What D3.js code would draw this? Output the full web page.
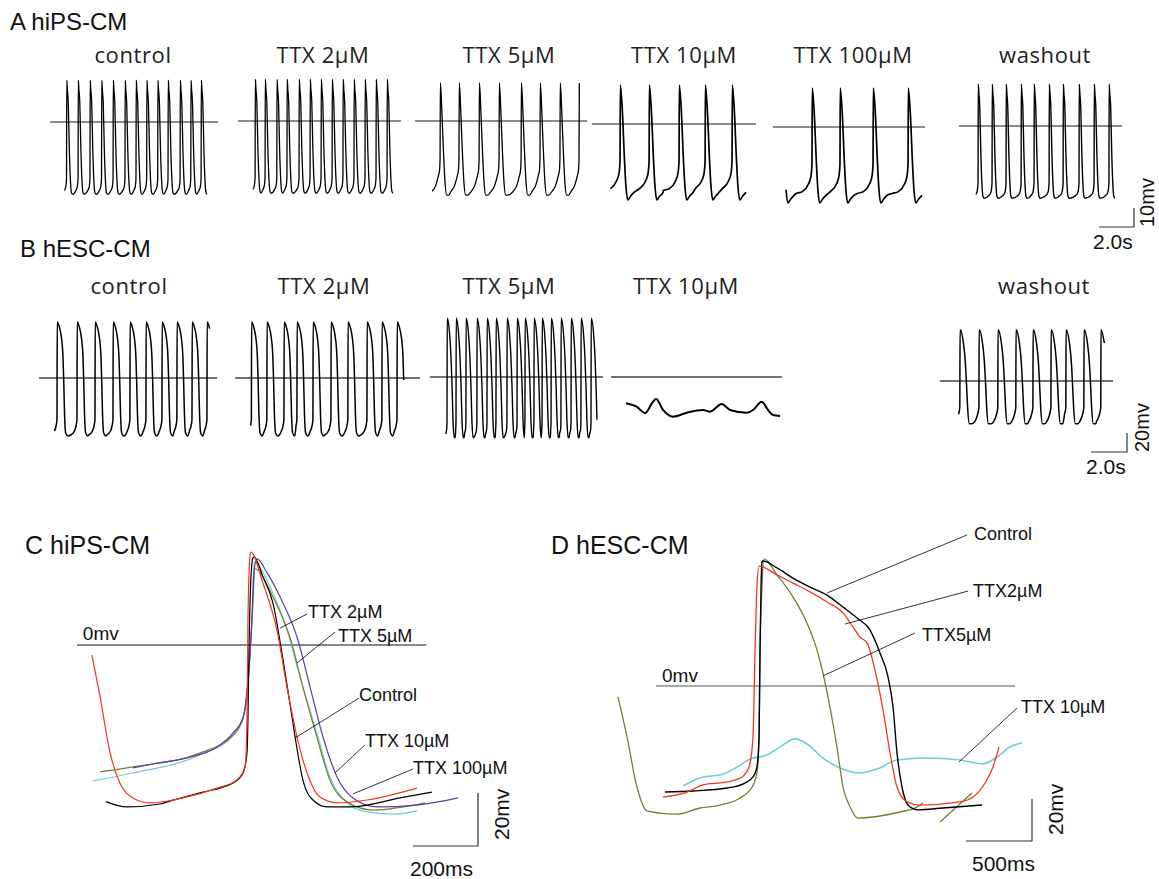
<!DOCTYPE html>
<html>
<head>
<meta charset="utf-8">
<script src="https://cdn.jsdelivr.net/npm/d3@7"></script>
<style>
body { margin: 0; background: #fff; }
text { fill: #111; }
</style>
</head>
<body>
<script>
// ---------- data ----------
// A: hiPS-CM, beat onsets in s from the start of each trace
var aTitles = ["control", "TTX 2µM", "TTX 5µM", "TTX 10µM", "TTX 100µM", "washout"];
var aBeats = [
  [0.2, 0.86, 1.54, 2.2, 2.86, 3.54, 4.17, 4.78, 5.41, 6.0, 6.69, 7.3, 7.89],
  [0.29, 0.86, 1.53, 2.11, 2.8, 3.43, 4.06, 4.69, 5.31, 5.94, 6.57, 7.2, 7.83],
  [0.46, 1.54, 2.69, 3.83, 5.09, 6.17, 7.31, 8.4],
  [0.63, 2.29, 4.0, 5.49, 7.03],
  [-0.28, 1.54, 3.14, 5.03, 7.03],
  [0.23, 1.03, 1.83, 2.69, 3.43, 4.29, 5.09, 6.0, 6.86, 7.71]
];
var aLength = [8.34, 8.29, 8.43, 8.17, 8.11, 8.11];
var aZeroSpan = [[-0.74, 8.86], [-0.69, 8.63], [-0.97, 8.86], [-0.97, 8.4], [-0.69, 8.0], [-0.86, 8.46]];
var aShapeOf = ["fast", "fast", "mid", "slow", "slow", "fast"];

// one action potential, [s from upstroke, mV]
var apFast = [[-0.12, -36], [-0.04, -34], [0, -30], [0.015, 22], [0.05, 17], [0.1, 10], [0.16, -14], [0.22, -30], [0.28, -37], [0.34, -38]];
var apMid = [[-0.45, -37], [-0.25, -34], [-0.1, -29], [-0.03, -26], [0, -20], [0.02, 20], [0.1, 6], [0.19, -15], [0.29, -33], [0.38, -39], [0.5, -39]];
var apSlow = [[-0.9, -35], [-0.55, -34], [-0.2, -30], [-0.06, -26], [0, -20], [0.02, 20.5], [0.15, 4], [0.23, -14], [0.34, -33], [0.44, -40], [0.6, -38], [0.8, -36]];

// B: hESC-CM
var bTitles = ["control", "TTX 2µM", "TTX 5µM", "TTX 10µM", "washout"];
var bBeats = [
  [0.17, 1.28, 2.28, 3.28, 4.22, 5.11, 6.0, 6.83, 7.67, 8.5],
  [0.08, 0.94, 1.89, 2.61, 3.5, 4.5, 5.44, 6.5, 7.33, 8.17],
  [0.28, 0.78, 1.33, 1.94, 2.5, 3.0, 3.61, 4.17, 4.61, 5.11, 5.56, 6.06, 6.61, 7.17, 7.72, 8.28],
  [],
  [0.11, 1.17, 2.22, 3.22, 4.17, 5.17, 6.0, 7.0, 7.94]
];
var bLength = [8.66, 8.56, 8.61, 8.56, 8.17];
var bZeroSpan = [[-0.83, 9.06], [-0.83, 9.44], [-0.67, 8.94], [-0.83, 8.67], [-1.0, 8.61]];
var bShapeOf = ["esc", "esc", "escShort", "none", "escWash"];

var escAP = [[-0.35, -60], [-0.15, -56], [-0.05, -50], [-0.005, -44], [0.01, 59], [0.15, 52], [0.24, 43], [0.33, 22], [0.37, -2], [0.41, -34], [0.48, -58], [0.6, -61]];
var escShort = [[-0.08, -60], [-0.02, -55], [-0.003, -48], [0.01, 62], [0.14, 46], [0.22, 21], [0.28, -10], [0.33, -45], [0.4, -64], [0.46, -63]];
var escWash = [[-0.25, -43], [-0.08, -35], [-0.01, -28], [0.005, 54], [0.19, 40], [0.3, 19], [0.37, -6], [0.43, -30], [0.52, -45], [0.65, -45]];
// TTX 10µM in hESC-CM: no action potentials, [s, mV]
var bTtx10 = [[0, -27.7], [0.59, -31.3], [1.06, -37.9], [1.5, -26], [1.67, -23.2], [2.06, -34.7], [2.61, -41.8], [3.37, -37.6],
  [4.28, -34.7], [4.67, -36.5], [5.32, -28.4], [5.78, -34.7], [6.71, -37.6], [7.06, -34.7], [7.54, -26], [7.89, -34.7], [8.17, -40], [8.56, -41]];

// C: hiPS-CM single APs, [ms, mV]
var cBlack = [[89, -59.1], [153, -61.1], [255, -60], [286, -58.9], [378, -55.8], [480, -52.1], [511, -48.3], [523, -40.8], [526, -28.3], [529, -3],
  [534, 21.9], [541, 32.8], [545, 33.2], [572, 25.7], [603, 15.8], [634, -5.7], [655, -21.9], [671, -34.7], [695, -50.9], [726, -58.5],
  [769, -61.1], [840, -61.1], [994, -57.7], [1092, -55.5]];
var cRed = [[46, -3.8], [71, -19.6], [102, -40.8], [132, -52.1], [172, -57.7], [225, -59.6], [326, -57.7], [431, -54], [492, -50.9], [517, -46],
  [523, -28.3], [526, 9.4], [532, 33.2], [535, 35.1], [572, 23.4], [615, 5.7], [646, -15.8], [677, -34.7], [708, -48.3], [748, -57.4],
  [800, -59.6], [892, -58.5], [1046, -54]];
var cPurple = [[172, -46.4], [234, -44.9], [338, -42.6], [431, -38.5], [480, -33.2], [511, -27.2], [526, -13.2], [538, 9.4], [545, 28.3],
  [554, 32.5], [585, 27.2], [634, 15.8], [677, 3], [717, -15.8], [757, -34.7], [800, -49.8], [849, -57.7], [923, -61.1], [1046, -60.4], [1172, -57.7]];
var cOlive = [[71, -47.9], [172, -46], [378, -40.8], [480, -34], [511, -27.5], [526, -15], [538, 7.5], [548, 28.7], [603, 18.1], [655, 3],
  [695, -15.8], [738, -34.7], [778, -50.9], [831, -59.2], [911, -62.3], [1071, -59.6]];
var cCyan = [[49, -51.3], [172, -48.3], [378, -41.5], [480, -34.3], [511, -27.9], [526, -14.3], [538, 9.4], [545, 31.3], [594, 21.9],
  [646, 5.7], [686, -12.1], [738, -33.2], [778, -49.8], [831, -59.6], [892, -63], [972, -63.8], [1046, -62.6]];
var cLabels = ["TTX 2µM", "TTX 5µM", "Control", "TTX 10µM", "TTX 100µM"];
// [label t, label mV, leader from t, mV, to t, mV]
var cLeaders = [[711, 10.2, 708, 11.7, 625, 6.4], [803, 1.1, 794, 4.9, 677, -6.8], [868, -21.1, 868, -20, 671, -35.1],
  [886, -38.5, 886, -37.7, 794, -48.3], [1034, -48.7, 1034, -46.8, 849, -56.2]];

// D: hESC-CM single APs, [ms, mV]
var dBlack = [[492, -50.5], [705, -50], [962, -48.6], [1098, -46.2], [1159, -43.3], [1189, -38.6], [1205, -24.3], [1212, 15.7], [1220, 47.1],
  [1227, 59], [1235, 59.5], [1341, 56.2], [1462, 51.4], [1591, 47.1], [1720, 43.3], [1841, 37.6], [1947, 32.4], [2045, 26.7], [2121, 15.7],
  [2182, 4.3], [2220, -10], [2250, -31.9], [2288, -48.1], [2333, -56.7], [2409, -59], [2598, -58.1], [2894, -56.7]];
var dRed = [[477, -52.9], [659, -50.5], [780, -47.1], [962, -45.7], [1076, -43.3], [1129, -38.6], [1159, -24.3], [1174, 15.7], [1189, 47.1],
  [1205, 57.1], [1341, 52.9], [1462, 49], [1591, 44.8], [1720, 40], [1841, 34.8], [1917, 28.1], [1970, 23.3], [2023, 20.5], [2083, 7.6],
  [2144, -11.4], [2197, -31.9], [2250, -48.1], [2326, -55.2], [2424, -56.7], [2727, -55.2], [2826, -52.9], [2917, -46.2], [2977, -38.6], [3023, -29]];
var dOlive = [[136, -5.2], [205, -24.3], [280, -48.1], [356, -59.5], [455, -60.5], [583, -61], [758, -58.1], [909, -56.7], [1061, -53.3],
  [1152, -48.1], [1189, -41.4], [1205, -24.3], [1212, 15.7], [1227, 47.1], [1242, 60.5], [1341, 52.9], [1462, 42.4], [1568, 30], [1644, 17.1],
  [1689, 6.2], [1742, -10], [1795, -29], [1841, -48.1], [1894, -57.6], [1955, -62.9], [2121, -61.9], [2273, -60], [2402, -57.6], [2447, -55.7]];
var dOliveNext = [[2576, -64.8], [2818, -51]];
var dCyan = [[629, -47.6], [780, -43.3], [909, -42.4], [1038, -38.6], [1136, -34.8], [1265, -32.9], [1364, -29], [1477, -25.2], [1568, -27.6],
  [1689, -34.3], [1818, -39], [1970, -41.4], [2121, -39], [2250, -35.2], [2477, -34.3], [2727, -35.2], [2902, -37.1], [3008, -33.8], [3106, -29], [3197, -27.1]];
var dLabels = ["Control", "TTX2µM", "TTX5µM", "TTX 10µM"];
var dLeaders = [[2833, 69.5, 2780, 71.9, 1720, 44.3], [2826, 42.4, 2788, 45.2, 1856, 29.5], [2439, 21.4, 2386, 25.2, 1689, 4.8],
  [3189, -12.9, 3159, -10.5, 2720, -36.2]];

// ---------- setup ----------
var svg = d3.select("body").append("svg")
  .attr("width", 1159)
  .attr("height", 879);

var shapes = { fast: apFast, mid: apMid, slow: apSlow, esc: escAP, escShort: escShort, escWash: escWash };
var arial = "'Liberation Sans', Arial, sans-serif";
var open = "'Open Sans', 'Noto Sans', sans-serif";

// lay copies of one AP at each beat onset
function beatTrace(beats, shape, len) {
  var pre = shape.filter(p => p[0] < 0), post = shape.filter(p => p[0] >= 0);
  var pts = [], last = -Infinity;
  beats.forEach(function(b, i) {
    var next = i < beats.length - 1 ? beats[i + 1] : Infinity;
    pre.forEach(function(p) { if (b + p[0] > last) pts.push([b + p[0], p[1]]); });
    post.forEach(function(p) { if (b + p[0] < next - 0.03) pts.push([b + p[0], p[1]]); });
    last = pts[pts.length - 1][0];
  });
  return pts.filter(p => p[0] >= 0 && p[0] <= len);
}

function label(x, y, str, size, fam) {
  return svg.append("text").attr("x", x).attr("y", y)
    .attr("font-family", fam).attr("font-size", size).text(str);
}

// ---------- A & B rows ----------
function traceRow(cfg) {
  cfg.titles.forEach(function(name, i) {
    var x = d3.scaleLinear().domain([0, 1]).range([cfg.x0[i], cfg.x0[i] + cfg.pxPerSec]);
    var y = d3.scaleLinear().domain([0, 10]).range([cfg.zeroY[i], cfg.zeroY[i] - 10 * cfg.pxPerMv]);
    var pts = cfg.shapeOf[i] == "none" ? cfg.flat : beatTrace(cfg.beats[i], shapes[cfg.shapeOf[i]], cfg.len[i]);

    label(cfg.titleX[i], cfg.titleY, name, 22, open)
      .attr("text-anchor", "middle").attr("letter-spacing", 0.6).style("fill", "#222");

    svg.append("line")
      .attr("x1", x(cfg.span[i][0])).attr("x2", x(cfg.span[i][1]))
      .attr("y1", y(0)).attr("y2", y(0))
      .attr("stroke", cfg.zeroColor).attr("stroke-width", 1.3);

    svg.append("path")
      .datum(pts)
      .attr("fill", "none")
      .attr("stroke", "#000")
      .attr("stroke-width", cfg.width[i])
      .attr("stroke-linejoin", "round")
      .attr("d", d3.line().x(d => x(d[0])).y(d => y(d[1])).curve(d3.curveMonotoneX));
  });

  // scale bar
  var sx = d3.scaleLinear().domain([0, 1]).range([0, cfg.pxPerSec]);
  var sy = d3.scaleLinear().domain([0, 1]).range([0, cfg.pxPerMv]);
  var bx = cfg.bar[0], by = cfg.bar[1];
  svg.append("path")
    .attr("d", "M" + (bx - sx(2)) + "," + by + "H" + bx + "V" + (by - sy(cfg.barMv)))
    .attr("fill", "none").attr("stroke", "#333").attr("stroke-width", 1.2);
  label(bx - 41, by + 22, "2.0s", 21, arial);
  label(0, 0, cfg.barMv + "mv", 20, arial)
    .attr("transform", "translate(" + (bx + cfg.mvDx) + "," + by + ") rotate(-90)");
}

label(10, 30, "A hiPS-CM", 24, arial);
traceRow({
  titles: aTitles, beats: aBeats, len: aLength, span: aZeroSpan, shapeOf: aShapeOf,
  x0: [63, 250, 432, 609, 785, 974], zeroY: [122, 121, 121, 124, 127, 126],
  titleX: [133, 323, 509, 684, 853, 1045], titleY: 63,
  pxPerSec: 17.5, pxPerMv: 1.9, zeroColor: "#666",
  width: [1.3, 1.3, 1.3, 1.7, 1.7, 1.4],
  bar: [1134, 227], barMv: 10, mvDx: 20
});

label(20, 257, "B hESC-CM", 24, arial);
traceRow({
  titles: bTitles, beats: bBeats, len: bLength, span: bZeroSpan, shapeOf: bShapeOf, flat: bTtx10,
  x0: [54, 250, 442, 626, 958], zeroY: [378, 378, 377, 377, 381],
  titleX: [129, 324, 509, 686, 1044], titleY: 294,
  pxPerSec: 18, pxPerMv: 0.95, zeroColor: "#444",
  width: [1.5, 1.5, 1.4, 2.0, 1.5],
  bar: [1127, 452], barMv: 20, mvDx: 22
});

// ---------- C & D single APs ----------
function apPanel(cfg) {
  var x = d3.scaleLinear().domain([0, 1000]).range([cfg.origin[0], cfg.origin[0] + cfg.pxPerSec]);
  var y = d3.scaleLinear().domain([0, -20]).range([cfg.origin[1], cfg.origin[1] + cfg.px20mv]);
  var line = d3.line().x(d => x(d[0])).y(d => y(d[1])).curve(d3.curveMonotoneX);

  label(cfg.titleXY[0], cfg.titleXY[1], cfg.title, 25, arial);

  svg.append("line")
    .attr("x1", x(cfg.zeroSpan[0])).attr("x2", x(cfg.zeroSpan[1]))
    .attr("y1", y(0)).attr("y2", y(0))
    .attr("stroke", cfg.zeroColor).attr("stroke-width", 1.1);
  label(x(cfg.zeroLabel[0]), y(cfg.zeroLabel[1]), "0mv", 19, arial);

  cfg.series.forEach(function(s) {
    svg.append("path")
      .datum(s.pts)
      .attr("fill", "none")
      .attr("stroke", s.color)
      .attr("stroke-width", s.w || 1.2)
      .attr("d", line);
  });

  cfg.leaders.forEach(function(l, i) {
    svg.append("line")
      .attr("x1", x(l[2])).attr("y1", y(l[3]))
      .attr("x2", x(l[4])).attr("y2", y(l[5]))
      .attr("stroke", "#000").attr("stroke-width", 0.8);
    label(x(l[0]), y(l[1]), cfg.labels[i], 18, arial);
  });

  // scale bar
  var bx = cfg.bar[0], by = cfg.bar[1];
  var w = x(cfg.barMs) - x(0), h = y(-20) - y(0);
  svg.append("path")
    .attr("d", "M" + (bx - w) + "," + by + "H" + bx + "V" + (by - h))
    .attr("fill", "none").attr("stroke", "#333").attr("stroke-width", 1.2);
  label(bx - w + cfg.msDx, by + 30, cfg.barMs + "ms", 21, arial);
  label(0, 0, "20mv", 21, arial)
    .attr("transform", "translate(" + (bx + 31) + "," + (by - 6) + ") rotate(-90)");
}

apPanel({
  title: "C hiPS-CM", titleXY: [25, 554],
  origin: [77, 645], pxPerSec: 325, px20mv: 53,
  zeroSpan: [0, 1075], zeroLabel: [18, 1.9], zeroColor: "#111",
  series: [
    { pts: cCyan, color: "#6fcfcf" },
    { pts: cOlive, color: "#7d7a2c" },
    { pts: cPurple, color: "#5b3ea8" },
    { pts: cBlack, color: "#000" },
    { pts: cRed, color: "#f0391c" }
  ],
  labels: cLabels, leaders: cLeaders,
  bar: [478, 846], barMs: 200, msDx: -3
});

apPanel({
  title: "D hESC-CM", titleXY: [551, 554],
  origin: [600, 686], pxPerSec: 132, px20mv: 42,
  zeroSpan: [424, 3144], zeroLabel: [470, 1.9], zeroColor: "#555",
  series: [
    { pts: dCyan, color: "#6fcfcf", w: 1.6 },
    { pts: dOlive, color: "#7d7a2c", w: 1.3 },
    { pts: dOliveNext, color: "#7d7a2c", w: 1.3 },
    { pts: dBlack, color: "#000", w: 1.4 },
    { pts: dRed, color: "#f0391c", w: 1.3 }
  ],
  labels: dLabels, leaders: dLeaders,
  bar: [1032, 841], barMs: 500, msDx: 6
});
</script>
</body>
</html>
